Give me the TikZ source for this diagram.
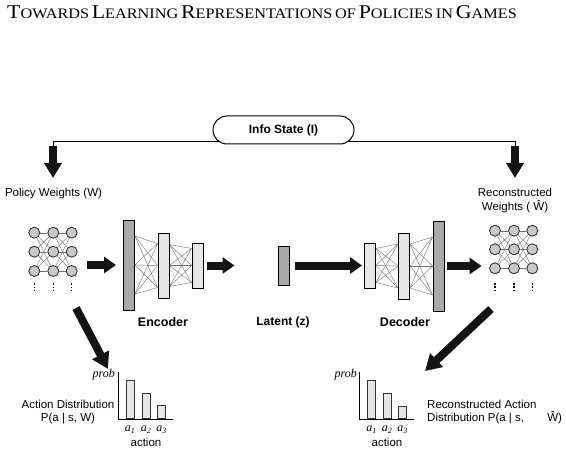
\documentclass[tikz,border=0pt]{standalone}
\usepackage{fontspec}
\setmainfont{Liberation Serif}
\setsansfont{Liberation Sans}
\usetikzlibrary{arrows.meta,positioning,calc,backgrounds}
\definecolor{layerDark}{HTML}{A9A9A9}
\definecolor{layerLight}{HTML}{E6E6E6}
\definecolor{unitGray}{HTML}{C8C8C8}
\definecolor{meshGray}{HTML}{707070}
\newcommand{\bigCap}[1]{{\fontsize{19.5}{22}\selectfont #1}}
\newcommand{\smallCap}[1]{{\fontsize{14.5}{16}\selectfont #1}}
\newcommand{\actSub}[1]{\textit{a\textsubscript{#1}}}
% every unit of layer #1 to every unit of layer #2 (#3, #4: spread of the end points)
\newcommand{\layerMesh}[4]{%
  \foreach \p in {-1,0,1}{\foreach \q in {-1,0,1}{%
    \draw[pol/mesh] ($(#1.east)+(0,\p*#3)$) -- ($(#2.west)+(0,\q*#4)$);}}}
\tikzset{
  % layers of the encoder and decoder
  pol/layer/.style={draw=black, line width=0.9pt, inner sep=0pt, minimum width=11pt},
  pol/layerD/.style={pol/layer, fill=layerDark},
  pol/layerL/.style={pol/layer, fill=layerLight},
  % one unit of a policy network
  pol/unit/.style={circle, draw=black!85, fill=unitGray, line width=0.8pt,
    minimum size=11pt, inner sep=0pt},
  pol/mesh/.style={draw=meshGray, line width=0.4pt},
  % block arrows
  pol/fat/.style={-{Triangle[length=12pt,width=16pt]}, line width=8pt, draw=black!92},
  pol/thin/.style={draw=black, line width=1pt},
  pol/bar/.style={draw=black!80, fill=layerLight, line width=0.7pt,
    minimum width=8pt, inner sep=0pt, anchor=south},
  pol/axis/.style={draw=black, line width=0.9pt},
  pol/lbl/.style={font=\sffamily\fontsize{11.5}{13}\selectfont, align=center, inner sep=0pt},
  pol/head/.style={font=\sffamily\bfseries\fontsize{12.5}{14}\selectfont, inner sep=0pt},
  pol/math/.style={font=\fontsize{12}{14}\selectfont, inner sep=0pt},
}
\begin{document}
\begin{tikzpicture}[x=1pt,y=-1pt]
  \useasboundingbox (0,0) rectangle (566,452);
  \node[anchor=base] (title) at (262,19)
    {\scalebox{1.12}[1]{\bigCap{T}\smallCap{OWARDS} \bigCap{L}\smallCap{EARNING}
     \bigCap{R}\smallCap{EPRESENTATIONS} \smallCap{OF}
     \bigCap{P}\smallCap{OLICIES} \smallCap{IN} \bigCap{G}\smallCap{AMES}}};

  % info state and the two arms
  \node[draw=black, line width=1pt, fill=white, rounded corners=14pt,
        minimum width=141pt, minimum height=28pt, inner sep=0pt,
        font=\sffamily\bfseries\fontsize{12}{14}\selectfont] (info) at (283.5,130) {Info State (I)};
  \coordinate (armL) at (53,146);
  \coordinate (armR) at (515,146);
  \coordinate (tipL) at (53,178);
  \coordinate (tipR) at (515,178);
  \begin{scope}[on background layer]
    \draw[pol/thin] ([yshift=-12pt]info.center) -| (armL);
    \draw[pol/thin] ([yshift=-12pt]info.center) -| (armR);
  \end{scope}
  \draw[pol/fat, -{Triangle[length=15pt,width=17pt]}] (armL) -- (tipL);
  \draw[pol/fat, -{Triangle[length=15pt,width=17pt]}] (armR) -- (tipR);
  \node[pol/lbl] (pw) at (53.5,194) {Policy Weights (W)};
  \node[pol/lbl, font=\sffamily\fontsize{11.5}{14}\selectfont] (rw) at (515,201)
    {Reconstructed\\Weights ( \^{W})};

  % policy networks
  \foreach \c/\x in {1/34.3,2/53.3,3/71.7}
    \foreach \r/\y in {1/232.7,2/251.7,3/271}
      \node[pol/unit] (wL-\r-\c) at (\x,\y) {};
  \foreach \c/\x in {1/495,2/514,3/532.3}
    \foreach \r/\y in {1/230.7,2/249.3,3/268.3}
      \node[pol/unit] (wR-\r-\c) at (\x,\y) {};
  \begin{scope}[on background layer]
    \foreach \c/\d in {1/2,2/3}
      \foreach \r in {1,2,3}
        \foreach \s in {1,2,3} {
          \draw[pol/mesh] (wL-\r-\c) -- (wL-\s-\d);
          \draw[pol/mesh] (wR-\r-\c) -- (wR-\s-\d);
        }
  \end{scope}
  \foreach \c in {1,2,3} {
    \draw[line width=1.4pt, dash pattern=on 1.6pt off 1.6pt] ([yshift=-6.5pt]wL-3-\c.south) -- ++(0,9);
    \draw[line width=1.4pt, dash pattern=on 1.6pt off 1.6pt] ([yshift=-9pt]wR-3-\c.south) -- ++(0,9);
  }

  % encoder, latent, decoder
  \node[pol/layerD, minimum height=90pt] (enc1) at (129,265) {};
  \node[pol/layerL, minimum height=65pt] (enc2) at (163.5,265.5) {};
  \node[pol/layerL, minimum height=45pt] (enc3) at (197.5,265.5) {};
  \node[pol/layerD, minimum height=39pt] (lat)  at (283.5,265.5) {};
  \node[pol/layerL, minimum height=45pt] (dec1) at (370,265.5) {};
  \node[pol/layerL, minimum height=66pt] (dec2) at (404,266) {};
  \node[pol/layerD, minimum height=90pt] (dec3) at (438.5,266) {};
  \begin{scope}[on background layer]
    \layerMesh{enc1}{enc2}{29}{22}
    \layerMesh{enc2}{enc3}{21}{17}
    \layerMesh{dec1}{dec2}{17}{22}
    \layerMesh{dec2}{dec3}{22}{29}
  \end{scope}
  \node[pol/head] (encL) at (163,322) {Encoder};
  \node[pol/head, font=\sffamily\bfseries\fontsize{12}{14}\selectfont] (latL) at (283,322) {Latent (z)};
  \node[pol/head] (decL) at (405,322) {Decoder};

  \draw[pol/fat, shorten <=9pt, shorten >=7pt] (wL-2-3.east |- enc1.west) -- (enc1.west);
  \draw[pol/fat, shorten <=4pt, shorten >=43pt] (enc3.east) -- (lat.west);
  \draw[pol/fat, shorten <=6pt, shorten >=2pt] (lat.east) -- (dec1.west);
  \draw[pol/fat, shorten <=3pt, shorten >=7.5pt] (dec3.east) -- (wR-2-1.west |- dec3.east);

  % from weights to action distributions
  \coordinate (dgLs) at (76,308);
  \coordinate (dgLt) at (108,369);
  \coordinate (dgRs) at (491,309);
  \coordinate (dgRt) at (425,371);
  \draw[pol/fat, -{Triangle[length=16pt,width=18pt]}] (dgLs) -- (dgLt);
  \draw[pol/fat, -{Triangle[length=16pt,width=18pt]}] (dgRs) -- (dgRt);

  % action distribution charts
  \draw[pol/axis] (118,372) |- (173,419);
  \node[pol/bar, minimum height=38pt] (bL1) at (130,419) {};
  \node[pol/bar, minimum height=25pt] (bL2) at (146,419) {};
  \node[pol/bar, minimum height=13pt] (bL3) at (161.5,419) {};
  \node[pol/math, anchor=east] (pL) at (115,375) {\textit{prob}};
  \node[pol/math] (aL1) at (130,430) {\actSub{1}};
  \node[pol/math] (aL2) at (146,430) {\actSub{2}};
  \node[pol/math] (aL3) at (161.5,430) {\actSub{3}};
  \node[pol/lbl] (xL) at (146,442) {action};
  \node[pol/lbl] (adL) at (68,412) {Action Distribution\\P(a | s, W)};

  \draw[pol/axis] (359,372) |- (414,419);
  \node[pol/bar, minimum height=38pt] (bR1) at (371.5,419) {};
  \node[pol/bar, minimum height=25pt] (bR2) at (387,419) {};
  \node[pol/bar, minimum height=12pt] (bR3) at (402.5,419) {};
  \node[pol/math, anchor=east] (pR) at (357,375) {\textit{prob}};
  \node[pol/math] (aR1) at (371.5,430) {\actSub{1}};
  \node[pol/math] (aR2) at (387,430) {\actSub{2}};
  \node[pol/math] (aR3) at (402.5,430) {\actSub{3}};
  \node[pol/lbl] (xR) at (387,442) {action};
  \node[pol/lbl, anchor=west, align=left] (adR) at (427,412)
    {Reconstructed Action\\Distribution P(a | s, \hspace{20pt}\^{W})};
\end{tikzpicture}
\end{document}
